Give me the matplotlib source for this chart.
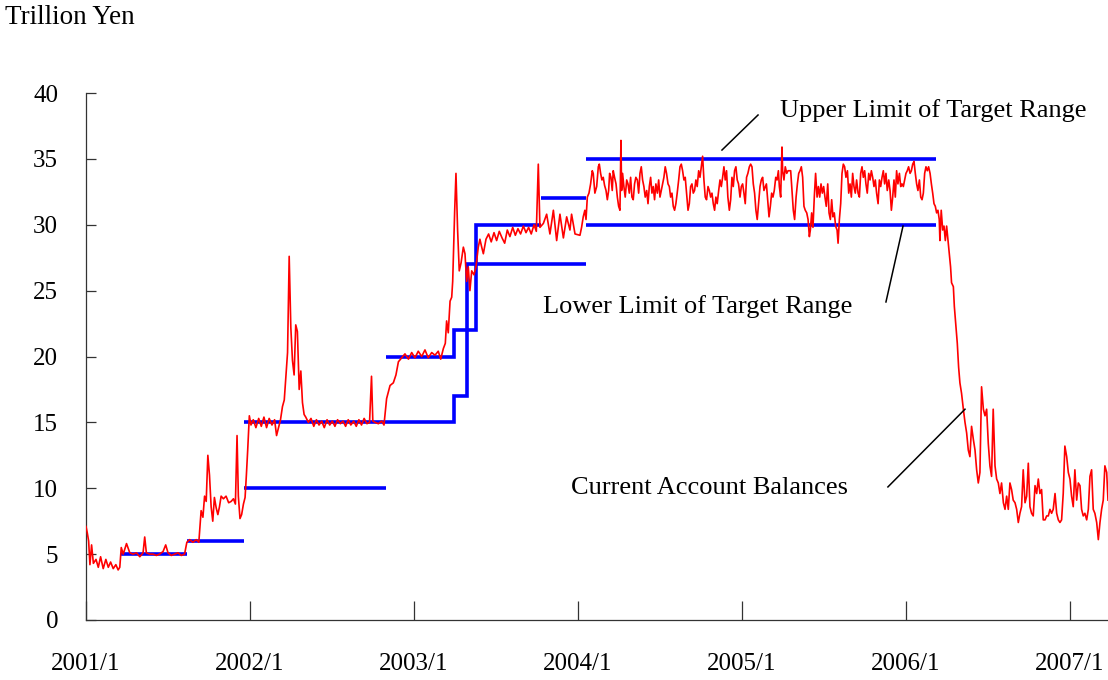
import matplotlib
matplotlib.use("Agg")
import matplotlib.pyplot as plt
from datetime import date

# ---------------- data ----------------
year_ticks = [2001, 2002, 2003, 2004, 2005, 2006, 2007]
year_labels = ["2001/1", "2002/1", "2003/1", "2004/1", "2005/1", "2006/1", "2007/1"]
y_ticks = [0, 5, 10, 15, 20, 25, 30, 35, 40]

# Current account balances (trillion yen): decimal year and value
cab_years = [
    # 2001 - 2003
    2001.000, 2001.008, 2001.016, 2001.024, 2001.034, 2001.045, 2001.061, 2001.075, 2001.089, 2001.105,
    2001.121, 2001.136, 2001.150, 2001.166, 2001.182, 2001.196, 2001.206, 2001.215, 2001.227, 2001.247,
    2001.267, 2001.287, 2001.308, 2001.328, 2001.348, 2001.358, 2001.368, 2001.389, 2001.409, 2001.429,
    2001.449, 2001.470, 2001.486, 2001.500, 2001.520, 2001.540, 2001.561, 2001.581, 2001.601, 2001.615,
    2001.632, 2001.652, 2001.672, 2001.688, 2001.702, 2001.713, 2001.723, 2001.733, 2001.743, 2001.753,
    2001.763, 2001.773, 2001.783, 2001.794, 2001.804, 2001.814, 2001.824, 2001.838, 2001.854, 2001.870,
    2001.885, 2001.899, 2001.911, 2001.921, 2001.929, 2001.939, 2001.949, 2001.960, 2001.970, 2001.978,
    2001.986, 2001.996, 2002.006, 2002.020, 2002.036, 2002.053, 2002.069, 2002.085, 2002.101, 2002.117,
    2002.134, 2002.150, 2002.162, 2002.174, 2002.186, 2002.198, 2002.209, 2002.219, 2002.229, 2002.239,
    2002.249, 2002.259, 2002.269, 2002.279, 2002.289, 2002.300, 2002.310, 2002.320, 2002.330, 2002.340,
    2002.356, 2002.372, 2002.389, 2002.405, 2002.421, 2002.437, 2002.453, 2002.470, 2002.486, 2002.502,
    2002.518, 2002.534, 2002.551, 2002.567, 2002.583, 2002.599, 2002.615, 2002.632, 2002.648, 2002.664,
    2002.680, 2002.696, 2002.713, 2002.729, 2002.741, 2002.749, 2002.762, 2002.783, 2002.803, 2002.817,
    2002.833, 2002.854, 2002.874, 2002.890, 2002.905, 2002.925, 2002.945, 2002.966, 2002.986, 2003.006,
    2003.026, 2003.047, 2003.067, 2003.087, 2003.108, 2003.128, 2003.148, 2003.163, 2003.179, 2003.191,
    2003.199, 2003.209, 2003.220, 2003.230, 2003.236, 2003.242, 2003.248, 2003.256, 2003.266, 2003.276,
    2003.287, 2003.301, 2003.311, 2003.321, 2003.331, 2003.341, 2003.352, 2003.366, 2003.378, 2003.392,
    2003.402, 2003.413, 2003.423, 2003.439, 2003.455, 2003.471, 2003.488, 2003.504, 2003.520, 2003.537,
    2003.553, 2003.569, 2003.585, 2003.602, 2003.618, 2003.634, 2003.650, 2003.667, 2003.683, 2003.699,
    2003.715, 2003.732, 2003.746, 2003.758, 2003.768, 2003.789, 2003.809, 2003.829, 2003.850, 2003.870,
    2003.890, 2003.911, 2003.931, 2003.951, 2003.961, 2003.982,
    # 2004 - early 2005
    2004.012, 2004.022, 2004.032, 2004.042, 2004.049, 2004.057, 2004.067, 2004.077, 2004.087, 2004.093,
    2004.103, 2004.114, 2004.124, 2004.130, 2004.138, 2004.146, 2004.154, 2004.162, 2004.171, 2004.179,
    2004.187, 2004.193, 2004.201, 2004.209, 2004.215, 2004.223, 2004.232, 2004.240, 2004.248, 2004.256,
    2004.262, 2004.266, 2004.272, 2004.280, 2004.288, 2004.297, 2004.305, 2004.313, 2004.321, 2004.329,
    2004.337, 2004.345, 2004.353, 2004.362, 2004.370, 2004.378, 2004.386, 2004.394, 2004.402, 2004.410,
    2004.419, 2004.427, 2004.435, 2004.443, 2004.451, 2004.459, 2004.467, 2004.475, 2004.484, 2004.492,
    2004.500, 2004.508, 2004.516, 2004.524, 2004.532, 2004.540, 2004.549, 2004.557, 2004.565, 2004.573,
    2004.581, 2004.589, 2004.597, 2004.605, 2004.614, 2004.622, 2004.630, 2004.638, 2004.646, 2004.654,
    2004.662, 2004.671, 2004.679, 2004.687, 2004.695, 2004.703, 2004.711, 2004.719, 2004.727, 2004.736,
    2004.744, 2004.752, 2004.760, 2004.768, 2004.776, 2004.784, 2004.793, 2004.801, 2004.809, 2004.817,
    2004.825, 2004.833, 2004.841, 2004.849, 2004.858, 2004.866, 2004.874, 2004.882, 2004.890, 2004.898,
    2004.906, 2004.914, 2004.923, 2004.931, 2004.939, 2004.947, 2004.955, 2004.963, 2004.971, 2004.979,
    2004.988, 2004.996, 2005.004, 2005.012, 2005.020, 2005.028, 2005.036, 2005.045, 2005.053, 2005.061,
    2005.069, 2005.077, 2005.085, 2005.093, 2005.101, 2005.110, 2005.118, 2005.126, 2005.134,
    # 2005 - early 2006
    2005.149, 2005.157, 2005.165, 2005.173, 2005.181, 2005.189, 2005.197, 2005.206, 2005.214, 2005.222,
    2005.228, 2005.236, 2005.244, 2005.248, 2005.256, 2005.264, 2005.273, 2005.281, 2005.289, 2005.297,
    2005.305, 2005.313, 2005.321, 2005.330, 2005.338, 2005.346, 2005.354, 2005.362, 2005.370, 2005.378,
    2005.386, 2005.395, 2005.403, 2005.411, 2005.417, 2005.425, 2005.433, 2005.441, 2005.449, 2005.458,
    2005.466, 2005.474, 2005.482, 2005.490, 2005.498, 2005.506, 2005.514, 2005.523, 2005.531, 2005.539,
    2005.547, 2005.555, 2005.563, 2005.571, 2005.580, 2005.586, 2005.594, 2005.602, 2005.610, 2005.618,
    2005.626, 2005.634, 2005.643, 2005.651, 2005.659, 2005.667, 2005.675, 2005.683, 2005.691, 2005.699,
    2005.708, 2005.716, 2005.724, 2005.732, 2005.740, 2005.748, 2005.756, 2005.764, 2005.773, 2005.781,
    2005.789, 2005.797, 2005.805, 2005.813, 2005.821, 2005.830, 2005.838, 2005.846, 2005.854, 2005.862,
    2005.870, 2005.878, 2005.886, 2005.895, 2005.903, 2005.911, 2005.919, 2005.927, 2005.935, 2005.943,
    2005.951, 2005.960, 2005.968, 2005.976, 2005.984, 2005.992, 2006.000, 2006.008, 2006.016, 2006.025,
    2006.033, 2006.041, 2006.049, 2006.057, 2006.065, 2006.073, 2006.082, 2006.090, 2006.098, 2006.106,
    2006.114, 2006.122, 2006.130, 2006.138, 2006.147, 2006.155, 2006.163, 2006.171, 2006.179, 2006.187,
    2006.195, 2006.203, 2006.207, 2006.215, 2006.224, 2006.232, 2006.240, 2006.248, 2006.258,
    # 2006 - 2007
    2006.264, 2006.272, 2006.278, 2006.289, 2006.295, 2006.305, 2006.313, 2006.321, 2006.329,
    2006.339, 2006.350, 2006.360, 2006.370, 2006.380, 2006.390, 2006.400, 2006.411, 2006.421, 2006.431,
    2006.441, 2006.451, 2006.461, 2006.472, 2006.482, 2006.492, 2006.502, 2006.512, 2006.522, 2006.532,
    2006.543, 2006.553, 2006.563, 2006.573, 2006.583, 2006.594, 2006.604, 2006.614, 2006.624, 2006.634,
    2006.644, 2006.654, 2006.665, 2006.675, 2006.685, 2006.695, 2006.705, 2006.715, 2006.726, 2006.736,
    2006.746, 2006.756, 2006.766, 2006.776, 2006.787, 2006.797, 2006.807, 2006.817, 2006.827, 2006.837,
    2006.848, 2006.858, 2006.868, 2006.878, 2006.888, 2006.898, 2006.909, 2006.919, 2006.929, 2006.939,
    2006.949, 2006.959, 2006.969, 2006.980, 2006.990, 2007.000, 2007.010, 2007.020, 2007.030, 2007.041,
    2007.051, 2007.061, 2007.071, 2007.081, 2007.091, 2007.102, 2007.112, 2007.122, 2007.132, 2007.142,
    2007.152, 2007.163, 2007.173, 2007.183, 2007.193, 2007.203, 2007.213, 2007.224, 2007.232,
]
cab_values = [
    # 2001 - 2003
    7.1, 6.6, 6.0, 4.2, 5.7, 4.3, 4.6, 4.0, 4.8, 3.9,
    4.6, 4.0, 4.4, 3.9, 4.2, 3.8, 4.0, 5.5, 5.0, 5.8,
    5.1, 5.0, 5.1, 4.8, 5.1, 6.3, 5.1, 5.0, 5.0, 4.9,
    5.0, 5.2, 5.7, 5.1, 4.9, 5.0, 5.1, 4.9, 5.0, 5.9,
    6.1, 5.9, 6.1, 5.9, 8.3, 7.8, 9.4, 9.0, 12.5, 11.0,
    8.6, 7.5, 9.3, 8.5, 8.0, 8.6, 9.4, 9.2, 9.4, 8.9,
    9.0, 9.2, 8.8, 14.0, 9.4, 7.7, 8.0, 8.8, 9.3, 11.0,
    12.9, 15.5, 14.8, 15.2, 14.6, 15.3, 14.7, 15.4, 14.6, 15.3,
    14.8, 15.2, 14.0, 14.6, 15.2, 16.2, 16.7, 18.5, 20.3, 27.6,
    22.2, 19.7, 18.6, 22.4, 21.9, 17.5, 18.9, 16.5, 15.6, 15.4,
    15.0, 15.3, 14.7, 15.2, 14.8, 15.1, 14.6, 15.2, 14.8, 15.1,
    14.7, 15.2, 14.9, 15.1, 14.7, 15.2, 14.8, 15.1, 14.7, 15.2,
    14.8, 15.3, 14.9, 15.0, 18.5, 15.1, 15.0, 14.9, 15.1, 14.8,
    16.8, 17.8, 18.0, 18.6, 19.6, 19.9, 20.2, 19.8, 20.3, 19.9,
    20.4, 20.0, 20.5, 19.9, 20.3, 20.1, 20.4, 19.8, 20.6, 21.0,
    22.7, 21.8, 24.2, 24.5, 25.7, 28.5, 31.0, 33.9, 29.6, 26.5,
    27.1, 28.3, 27.8, 25.7, 26.8, 25.0, 26.5, 26.2, 26.8, 28.3,
    28.9, 28.3, 27.8, 28.9, 29.3, 28.7, 29.4, 28.8, 29.5, 29.0,
    28.6, 29.6, 29.1, 29.8, 29.2, 29.7, 29.3, 29.9, 29.4, 29.8,
    29.3, 30.0, 29.5, 34.6, 29.8, 30.1, 30.8, 29.3, 31.1, 28.8,
    30.8, 29.0, 30.6, 29.6, 30.8, 29.3,
    # 2004 - early 2005
    29.2, 29.8, 30.6, 31.1, 30.4, 32.1, 32.4, 33.1, 34.1, 33.9,
    32.4, 32.9, 34.4, 34.6, 33.9, 33.4, 33.6, 33.0, 32.6, 31.9,
    32.6, 33.9, 33.6, 32.6, 34.1, 33.6, 33.1, 32.1, 31.4, 31.1,
    36.4, 32.6, 33.9, 32.9, 32.1, 33.4, 33.1, 32.4, 33.6, 32.1,
    31.9, 33.1, 33.6, 33.4, 32.4, 33.9, 34.4, 33.4, 32.9, 32.1,
    32.6, 31.6, 32.9, 33.6, 32.4, 32.9, 31.9, 33.1, 32.4, 33.4,
    32.1, 32.6, 33.1, 33.6, 34.4, 33.9, 33.1, 32.9, 32.1, 32.4,
    31.4, 31.1, 31.6, 32.4, 33.4, 34.4, 34.6, 34.1, 33.4, 33.6,
    32.4, 31.1, 31.6, 32.9, 33.1, 32.4, 32.6, 33.4, 32.9, 34.1,
    33.6, 34.4, 35.2, 33.4, 32.1, 31.9, 32.9, 32.6, 32.1, 32.4,
    31.6, 31.1, 32.1, 31.6, 32.6, 33.4, 32.9, 33.6, 34.4, 33.4,
    34.1, 32.1, 31.1, 31.9, 33.6, 32.9, 34.1, 34.4, 33.4, 33.1,
    32.1, 32.9, 33.1, 32.4, 31.6, 33.6, 33.9, 34.4, 34.6, 34.4,
    33.1, 32.4, 31.1, 30.4, 31.6, 32.9, 33.4, 33.6, 32.6,
    # 2005 - early 2006
    33.1, 31.9, 30.6, 31.4, 32.4, 32.1, 32.6, 33.6, 33.4, 34.1,
    32.9, 32.1, 35.9, 34.1, 33.4, 34.4, 33.9, 34.1, 34.1, 34.1,
    32.6, 31.1, 30.4, 32.1, 33.1, 33.9, 34.1, 34.4, 33.6, 31.4,
    31.1, 30.9, 30.4, 29.1, 29.6, 30.9, 29.8, 32.1, 33.9, 32.1,
    32.9, 32.1, 33.1, 32.4, 32.9, 32.1, 31.4, 33.1, 30.9, 30.4,
    31.9, 30.6, 30.9, 29.9, 29.6, 28.6, 30.4, 31.6, 33.9, 34.6,
    34.4, 33.6, 34.1, 32.4, 33.1, 32.1, 33.9, 32.9, 32.4, 33.4,
    32.4, 32.1, 33.9, 34.4, 33.6, 34.1, 33.1, 32.4, 33.9, 33.4,
    34.1, 33.6, 32.9, 33.4, 32.4, 31.6, 33.4, 32.9, 33.6, 34.1,
    33.1, 33.9, 32.6, 33.4, 32.6, 31.1, 32.1, 33.4, 32.1, 34.1,
    33.1, 33.9, 32.9, 33.1, 32.9, 33.4, 33.9, 34.1, 34.4, 33.9,
    34.1, 34.6, 34.8, 33.9, 33.1, 32.6, 33.4, 32.1, 31.9, 32.4,
    33.9, 34.4, 34.1, 34.4, 33.9, 33.1, 32.4, 31.6, 31.4, 30.9,
    31.1, 30.4, 28.8, 31.1, 29.6, 29.9, 28.8, 29.9, 28.6,
    # 2006 - 2007
    27.8, 26.8, 25.6, 25.3, 23.8, 22.3, 21.0, 19.2, 18.0,
    17.2, 16.0, 15.0, 14.2, 12.9, 12.4, 14.7, 13.7, 12.9, 11.4,
    10.4, 11.2, 17.7, 16.0, 15.5, 16.0, 13.4, 11.7, 10.9, 16.0,
    11.7, 10.7, 10.4, 9.6, 10.4, 8.9, 8.4, 9.4, 8.4, 10.4,
    9.9, 9.1, 8.9, 8.4, 7.4, 8.1, 8.6, 11.4, 8.9, 9.4,
    11.9, 8.6, 8.1, 7.9, 10.2, 9.6, 10.7, 9.6, 9.9, 7.6,
    7.6, 7.9, 7.9, 8.4, 8.1, 8.4, 9.6, 8.1, 7.6, 7.4,
    7.6, 9.6, 13.2, 12.4, 11.2, 10.7, 9.4, 8.6, 11.4, 9.1,
    10.4, 10.2, 8.4, 7.9, 8.1, 7.6, 8.4, 10.9, 11.4, 8.4,
    8.1, 7.4, 6.1, 7.4, 8.4, 9.1, 11.7, 11.2, 9.1,
]

# Target range lines: (dates, levels)
target_lines = [
    (["2001-03-19", "2001-08-14"], [5, 5]),
    (["2001-08-14", "2001-12-19"], [6, 6]),
    (["2001-12-19", "2002-10-30"], [10, 10]),
    (["2001-12-19", "2003-04-01", "2003-04-01", "2003-04-30", "2003-04-30", "2004-01-20"],
     [15, 15, 17, 17, 27, 27]),
    (["2002-10-30", "2003-04-01", "2003-04-01", "2003-05-20", "2003-05-20", "2003-10-10"],
     [20, 20, 22, 22, 30, 30]),
    (["2003-10-10", "2004-01-20"], [32, 32]),
    (["2004-01-20", "2006-03-09"], [35, 35]),
    (["2004-01-20", "2006-03-09"], [30, 30]),
]


def to_year(s):
    d = date.fromisoformat(s)
    start = date(d.year, 1, 1)
    n = (date(d.year + 1, 1, 1) - start).days
    return d.year + (d - start).days / n


# ---------------- figure ----------------
plt.rcParams['font.family'] = ['Liberation Serif', 'DejaVu Serif']

fig = plt.figure(figsize=(11.08, 6.8), dpi=100)
ax = fig.add_axes([86 / 1108, 60 / 680, 1022 / 1108, 527 / 680])

for dates, vals in target_lines:
    ax.plot([to_year(s) for s in dates], vals, color='#0000FF', lw=2.6,
            solid_capstyle='butt', solid_joinstyle='miter', zorder=2)

ax.plot(cab_years, cab_values, color='#FF0000', lw=1.2, zorder=3)

ax.set_xlim(2001.0, 2007.232)
ax.set_ylim(0, 40)
ax.set_xticks(year_ticks)
ax.set_xticklabels(year_labels)
ax.set_yticks(y_ticks)
ax.set_yticklabels([str(v) for v in y_ticks])

for side in ['top', 'right']:
    ax.spines[side].set_visible(False)
for side in ['left', 'bottom']:
    ax.spines[side].set_color('#333333')
    ax.spines[side].set_linewidth(0.9)

ax.tick_params(axis='y', direction='in', length=7, width=0.9, color='#333333',
               labelsize=18, pad=20)
ax.tick_params(axis='x', direction='in', length=14, width=0.9, color='#333333',
               labelsize=18, pad=24)

fig.text(5 / 1108, 1 - 18 / 680, "Trillion Yen", fontsize=19.5, va='center', ha='left')

# annotations
ann_fs = 19
ax.text(2005.232, 38.7, "Upper Limit of Target Range", fontsize=ann_fs, va='center', ha='left')
ax.plot([2004.878, 2005.098], [35.67, 38.33], color='black', lw=1.1, zorder=4)

ax.text(2003.787, 23.83, "Lower Limit of Target Range", fontsize=ann_fs, va='center', ha='left')
ax.plot([2005.982, 2005.878], [29.9, 24.14], color='black', lw=1.1, zorder=4)

ax.text(2003.957, 10.02, "Current Account Balances", fontsize=ann_fs, va='center', ha='left')
ax.plot([2006.36, 2005.89], [16.0, 10.1], color='black', lw=1.1, zorder=4)

fig.savefig("out.png", dpi=100)
